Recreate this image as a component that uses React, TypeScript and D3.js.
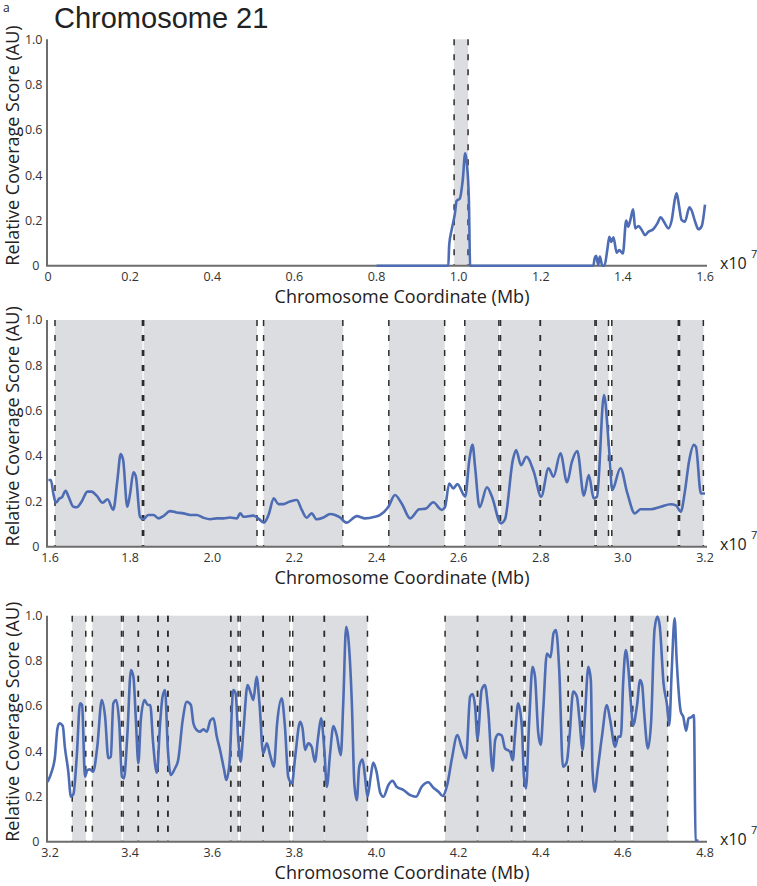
import React from "react";
import * as d3 from "d3";

// tick labels
const yTicks = [0, 0.2, 0.4, 0.6, 0.8, 1.0];
const xTicks1 = [0, 0.2, 0.4, 0.6, 0.8, 1.0, 1.2, 1.4, 1.6];
const xTicks2 = [1.6, 1.8, 2.0, 2.2, 2.4, 2.6, 2.8, 3.0, 3.2];
const xTicks3 = [3.2, 3.4, 3.6, 3.8, 4.0, 4.2, 4.4, 4.6, 4.8];

// shaded regions [start, end] (x10^7)
const regions1 = [[0.989, 1.023]];
const regions2 = [
  [1.617, 1.83], [1.833, 2.109], [2.125, 2.318], [2.43, 2.566], [2.615, 2.698],
  [2.702, 2.799], [2.799, 2.932], [2.935, 2.965], [2.973, 3.135], [3.138, 3.196],
];
const regions3 = [
  [3.259, 3.292], [3.308, 3.379], [3.383, 3.42], [3.42, 3.468], [3.468, 3.492],
  [3.492, 3.645], [3.645, 3.663], [3.668, 3.724], [3.724, 3.789], [3.796, 3.873],
  [3.873, 3.978], [4.167, 4.246], [4.246, 4.329], [4.329, 4.359], [4.362, 4.467],
  [4.467, 4.501], [4.501, 4.581], [4.581, 4.62], [4.624, 4.709],
];

// coverage score, [coordinate, score]
const coverage1 = [
  [0.8, 0], [0.975, 0], [0.977, 0.091], [0.983, 0.158], [0.991, 0.231], [0.995, 0.286],
  [1.003, 0.297], [1.01, 0.378], [1.016, 0.496], [1.02, 0.452], [1.025, 0.29], [1.028, 0],
  [1.328, 0], [1.331, 0.03], [1.335, 0.044], [1.34, 0.003], [1.344, 0.04], [1.35, 0],
  [1.355, 0], [1.362, 0.069], [1.367, 0.128], [1.372, 0.105], [1.377, 0.125], [1.385, 0.057],
  [1.391, 0.069], [1.4, 0.054], [1.408, 0.199], [1.413, 0.172], [1.418, 0.2], [1.425, 0.249],
  [1.43, 0.165], [1.438, 0.175], [1.446, 0.158], [1.454, 0.135], [1.462, 0.15], [1.474, 0.161],
  [1.484, 0.187], [1.492, 0.214], [1.5, 0.194], [1.511, 0.165], [1.519, 0.202], [1.527, 0.297],
  [1.531, 0.32], [1.537, 0.261], [1.543, 0.202], [1.551, 0.194], [1.562, 0.258], [1.567, 0.246],
  [1.576, 0.194], [1.584, 0.161], [1.592, 0.175], [1.6, 0.27],
];
const coverage2 = [
  [1.601, 0.294], [1.607, 0.294], [1.613, 0.235], [1.619, 0.194], [1.628, 0.213], [1.634, 0.218],
  [1.643, 0.247], [1.65, 0.221], [1.662, 0.176], [1.67, 0.174], [1.682, 0.199], [1.696, 0.243],
  [1.706, 0.243], [1.719, 0.224], [1.733, 0.194], [1.745, 0.209], [1.759, 0.162], [1.769, 0.294],
  [1.777, 0.409], [1.783, 0.382], [1.793, 0.176], [1.8, 0.235], [1.808, 0.328], [1.814, 0.309],
  [1.824, 0.132], [1.832, 0.121], [1.844, 0.14], [1.857, 0.14], [1.869, 0.125], [1.881, 0.135],
  [1.897, 0.157], [1.913, 0.151], [1.93, 0.147], [1.946, 0.14], [1.962, 0.14], [1.978, 0.128],
  [1.995, 0.121], [2.011, 0.125], [2.027, 0.125], [2.043, 0.129], [2.06, 0.125], [2.068, 0.147],
  [2.076, 0.132], [2.1, 0.137], [2.112, 0.125], [2.126, 0.106], [2.137, 0.14], [2.15, 0.213],
  [2.161, 0.188], [2.173, 0.188], [2.189, 0.199], [2.206, 0.206], [2.218, 0.162], [2.23, 0.128],
  [2.242, 0.147], [2.254, 0.121], [2.271, 0.129], [2.287, 0.144], [2.299, 0.14], [2.311, 0.129],
  [2.327, 0.106], [2.352, 0.135], [2.372, 0.125], [2.396, 0.132], [2.409, 0.14], [2.429, 0.176],
  [2.445, 0.228], [2.462, 0.188], [2.482, 0.125], [2.504, 0.165], [2.52, 0.168], [2.538, 0.196],
  [2.559, 0.162], [2.567, 0.176], [2.577, 0.279], [2.587, 0.257], [2.597, 0.276], [2.616, 0.221],
  [2.626, 0.382], [2.634, 0.449], [2.64, 0.353], [2.651, 0.174], [2.669, 0.262], [2.681, 0.221],
  [2.703, 0.103], [2.713, 0.121], [2.732, 0.382], [2.74, 0.426], [2.752, 0.36], [2.765, 0.397],
  [2.783, 0.331], [2.801, 0.221], [2.819, 0.346], [2.831, 0.309], [2.848, 0.412], [2.864, 0.284],
  [2.876, 0.375], [2.889, 0.422], [2.905, 0.225], [2.917, 0.316], [2.929, 0.213], [2.937, 0.221],
  [2.954, 0.669], [2.966, 0.441], [2.974, 0.25], [2.994, 0.346], [3.011, 0.235], [3.029, 0.147],
  [3.043, 0.165], [3.068, 0.165], [3.092, 0.176], [3.116, 0.187], [3.13, 0.181], [3.141, 0.154],
  [3.151, 0.243], [3.161, 0.375], [3.173, 0.449], [3.178, 0.44], [3.19, 0.235], [3.2, 0.235],
];
const coverage3 = [
  [3.199, 0.265], [3.209, 0.31], [3.217, 0.376], [3.223, 0.501], [3.228, 0.524], [3.236, 0.512],
  [3.241, 0.42], [3.249, 0.317], [3.256, 0.199], [3.262, 0.211], [3.27, 0.376], [3.278, 0.612],
  [3.283, 0.605], [3.29, 0.288], [3.296, 0.317], [3.302, 0.32], [3.31, 0.31], [3.32, 0.42],
  [3.331, 0.627], [3.339, 0.553], [3.347, 0.369], [3.353, 0.376], [3.359, 0.612], [3.366, 0.627],
  [3.374, 0.509], [3.38, 0.288], [3.385, 0.28], [3.393, 0.465], [3.402, 0.76], [3.408, 0.73],
  [3.414, 0.538], [3.42, 0.347], [3.426, 0.538], [3.435, 0.627], [3.443, 0.605], [3.449, 0.605],
  [3.456, 0.435], [3.465, 0.305], [3.473, 0.524], [3.479, 0.642], [3.485, 0.671], [3.492, 0.406],
  [3.499, 0.295], [3.509, 0.324], [3.517, 0.361], [3.528, 0.538], [3.538, 0.619], [3.548, 0.605],
  [3.554, 0.524], [3.562, 0.494], [3.57, 0.487], [3.578, 0.497], [3.587, 0.487], [3.595, 0.535],
  [3.603, 0.546], [3.611, 0.465], [3.619, 0.406], [3.629, 0.317], [3.634, 0.273], [3.642, 0.347],
  [3.651, 0.671], [3.657, 0.656], [3.663, 0.465], [3.669, 0.354], [3.676, 0.494], [3.686, 0.693],
  [3.694, 0.656], [3.7, 0.627], [3.708, 0.73], [3.715, 0.612], [3.724, 0.391], [3.733, 0.435],
  [3.741, 0.383], [3.75, 0.332], [3.758, 0.524], [3.769, 0.634], [3.777, 0.509], [3.785, 0.288],
  [3.794, 0.258], [3.802, 0.376], [3.814, 0.531], [3.82, 0.5], [3.826, 0.406], [3.834, 0.435],
  [3.842, 0.42], [3.85, 0.354], [3.858, 0.465], [3.865, 0.546], [3.873, 0.406], [3.879, 0.243],
  [3.887, 0.391], [3.895, 0.512], [3.903, 0.472], [3.913, 0.383], [3.919, 0.612], [3.926, 0.951],
  [3.931, 0.907], [3.94, 0.612], [3.946, 0.258], [3.952, 0.184], [3.958, 0.332], [3.966, 0.364],
  [3.972, 0.288], [3.978, 0.199], [3.986, 0.288], [3.992, 0.35], [4.0, 0.31], [4.009, 0.217],
  [4.017, 0.199], [4.029, 0.251], [4.039, 0.27], [4.049, 0.243], [4.065, 0.229], [4.082, 0.206],
  [4.096, 0.199], [4.11, 0.243], [4.126, 0.263], [4.138, 0.24], [4.151, 0.221], [4.161, 0.202],
  [4.173, 0.258], [4.183, 0.361], [4.197, 0.472], [4.207, 0.42], [4.218, 0.369], [4.228, 0.642],
  [4.234, 0.653], [4.24, 0.6], [4.246, 0.457], [4.256, 0.671], [4.264, 0.693], [4.272, 0.583],
  [4.283, 0.313], [4.289, 0.45], [4.297, 0.476], [4.305, 0.47], [4.313, 0.413], [4.325, 0.398],
  [4.332, 0.361], [4.337, 0.465], [4.345, 0.612], [4.354, 0.509], [4.359, 0.288], [4.364, 0.236],
  [4.372, 0.538], [4.38, 0.774], [4.386, 0.73], [4.394, 0.479], [4.4, 0.428], [4.406, 0.583],
  [4.415, 0.833], [4.424, 0.816], [4.431, 0.922], [4.437, 0.937], [4.445, 0.76], [4.454, 0.332],
  [4.463, 0.35], [4.47, 0.465], [4.479, 0.664], [4.488, 0.642], [4.494, 0.546], [4.502, 0.406],
  [4.508, 0.568], [4.516, 0.774], [4.522, 0.715], [4.526, 0.317], [4.531, 0.221], [4.539, 0.324],
  [4.549, 0.465], [4.561, 0.605], [4.569, 0.538], [4.581, 0.42], [4.589, 0.465], [4.595, 0.465],
  [4.601, 0.715], [4.607, 0.848], [4.613, 0.774], [4.619, 0.627], [4.625, 0.516], [4.634, 0.597],
  [4.642, 0.715], [4.647, 0.693], [4.652, 0.568], [4.661, 0.413], [4.669, 0.538], [4.677, 0.937],
  [4.684, 0.996], [4.69, 0.951], [4.699, 0.701], [4.707, 0.612], [4.713, 0.516], [4.719, 0.76],
  [4.726, 0.988], [4.731, 0.804], [4.741, 0.575], [4.747, 0.553], [4.754, 0.491], [4.76, 0.546],
  [4.766, 0.55], [4.773, 0.56], [4.777, 0.007], [4.784, 0.004],
];

const FONT = "'Open Sans', 'Noto Sans', sans-serif";
const X0 = 48;
const X1 = 705;

const panels = [
  { id: "p1", data: coverage1, regions: regions1, ticks: xTicks1, top: 39.3, bottom: 265.7 },
  { id: "p2", data: coverage2, regions: regions2, ticks: xTicks2, top: 320, bottom: 546.7 },
  { id: "p3", data: coverage3, regions: regions3, ticks: xTicks3, top: 615.7, bottom: 841.7 },
];

const fmt = (v: number) => (v === 0 ? "0" : v.toFixed(1));

const Panel = ({ p }: { p: (typeof panels)[number] }) => {
  const x = d3.scaleLinear().domain([p.ticks[0], p.ticks[p.ticks.length - 1]]).range([X0, X1]);
  const y = d3.scaleLinear().domain([0, 1]).range([p.bottom, p.top]);
  const line = d3
    .line<number[]>()
    .x((d) => x(d[0]))
    .y((d) => y(d[1]))
    .curve(d3.curveMonotoneX);
  const edges = p.regions.flat();
  const midY = (p.top + p.bottom) / 2;

  return (
    <g>
      {/* shaded regions */}
      {p.regions.map((r, i) => (
        <rect key={i} x={x(r[0])} y={p.top} width={x(r[1]) - x(r[0])} height={p.bottom - p.top} fill="#dcdde0" />
      ))}
      {edges.map((e, i) => (
        <line key={i} x1={x(e)} x2={x(e)} y1={p.top} y2={p.bottom} stroke="#2b2b2b" strokeWidth={1.5} strokeDasharray="6,9" />
      ))}

      {/* axes */}
      <line x1={X0 - 1} x2={X0 - 1} y1={p.top} y2={p.bottom} stroke="#6d6d6d" strokeWidth={2} />
      <line x1={X0 - 2} x2={X1 + 2} y1={p.bottom} y2={p.bottom} stroke="#6d6d6d" strokeWidth={2} />

      <path d={line(p.data) || ""} fill="none" stroke="#4d6cb3" strokeWidth={2.6} strokeLinejoin="round" />

      {yTicks.map((t) => (
        <text key={t} x={t === 0 ? 39.5 : 42.5} y={y(t)} dy="0.35em" textAnchor="end" fontSize={12.5} fill="#333" fontFamily={FONT}>
          {fmt(t)}
        </text>
      ))}
      {p.ticks.map((t) => (
        <text key={t} x={x(t) + (t === p.ticks[0] && t !== 0 ? 2 : 0)} y={p.bottom + 15} textAnchor="middle" fontSize={12.5} fill="#333" fontFamily={FONT}>
          {fmt(t)}
        </text>
      ))}

      <text x={402} y={p.bottom + 37.5} textAnchor="middle" fontSize={18} fill="#222" fontFamily={FONT}>
        Chromosome Coordinate (Mb)
      </text>
      <text
        transform={`translate(18.5, ${midY - 7}) rotate(-90)`}
        textAnchor="middle"
        fontSize={18}
        fill="#222"
        fontFamily={FONT}
      >
        Relative Coverage Score (AU)
      </text>
      <text x={720} y={p.bottom + 3} fontSize={16} fill="#222" fontFamily={FONT}>
        x10
      </text>
      <text x={751} y={p.bottom - 8} fontSize={11} fill="#222" fontFamily={FONT}>
        7
      </text>
    </g>
  );
};

export default function App() {
  return (
    <svg
      width={757}
      height={886}
      style={{ position: "absolute", left: 0, top: 0, background: "#fff" }}
    >
      <rect width={757} height={886} fill="#fff" />
      <text x={3} y={12} fontSize={12} fill="#222" fontFamily={FONT}>
        a
      </text>
      <text x={54} y={28} fontSize={29} fill="#222" fontFamily="'Liberation Sans', Arial, sans-serif">
        Chromosome 21
      </text>
      {panels.map((p) => (
        <Panel key={p.id} p={p} />
      ))}
    </svg>
  );
}
